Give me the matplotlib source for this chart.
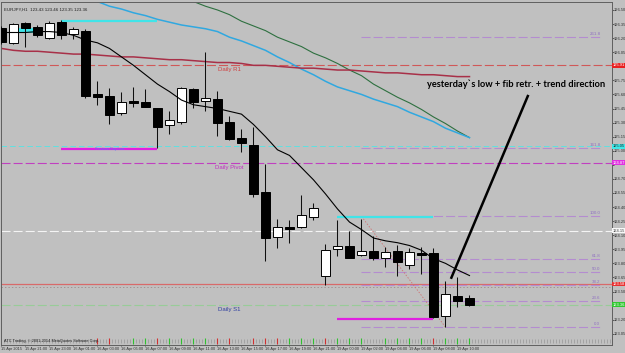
import numpy as np
import matplotlib
matplotlib.use("Agg")
import matplotlib.pyplot as plt

plt.rcParams['font.family'] = ['Liberation Sans', 'DejaVu Sans']
plt.rcParams['lines.scale_dashes'] = False

# EURJPY H1 свечи
opens = [126.31, 126.15, 126.36, 126.32, 126.20, 126.37, 126.24, 126.28, 125.60, 125.58,
         125.40, 125.53, 125.52, 125.46, 125.27, 125.31, 125.66, 125.53, 125.55, 125.31,
         125.14, 125.06, 124.56, 124.08, 124.19, 124.19, 124.29, 123.67, 123.95, 123.99,
         123.89, 123.93, 123.86, 123.93, 123.78, 123.91, 123.91, 123.24, 123.45, 123.43]
highs = [126.33, 126.36, 126.37, 126.34, 126.38, 126.39, 126.32, 126.30, 125.74, 125.67,
         125.63, 125.68, 125.66, 125.46, 125.42, 125.68, 125.67, 126.05, 125.64, 125.37,
         125.23, 125.25, 124.86, 124.27, 124.26, 124.53, 124.44, 124.01, 124.26, 124.14,
         124.27, 124.09, 123.97, 124.00, 123.96, 123.97, 123.96, 123.61, 123.65, 123.46]
lows = [126.14, 126.14, 126.11, 126.21, 126.19, 126.19, 126.19, 125.56, 125.49, 125.28,
        125.38, 125.47, 125.47, 125.03, 125.18, 125.29, 125.46, 125.42, 125.16, 125.11,
        124.99, 124.51, 123.82, 123.96, 124.02, 124.18, 124.26, 123.57, 123.88, 123.86,
        123.88, 123.84, 123.76, 123.66, 123.74, 123.69, 123.22, 123.12, 123.34, 123.35]
closes = [126.16, 126.35, 126.31, 126.23, 126.36, 126.23, 126.30, 125.58, 125.57, 125.38,
          125.52, 125.51, 125.47, 125.25, 125.33, 125.67, 125.52, 125.56, 125.30, 125.13,
          125.08, 124.54, 124.07, 124.19, 124.17, 124.31, 124.39, 123.94, 123.98, 123.86,
          123.93, 123.86, 123.92, 123.81, 123.92, 123.89, 123.23, 123.47, 123.40, 123.36]

# скользящие средние
ma_black = [126.26, 126.26, 126.26, 126.27, 126.27, 126.26, 126.23, 126.18, 126.15, 126.09,
            126.00, 125.91, 125.81, 125.71, 125.63, 125.54, 125.49, 125.47, 125.45, 125.42,
            125.39, 125.28, 125.15, 125.01, 124.95, 124.82, 124.69, 124.54, 124.38, 124.24,
            124.16, 124.07, 124.04, 124.02, 123.99, 123.94, 123.85, 123.80, 123.73, 123.67]
ma_cyan = [126.87, 126.84, 126.80, 126.76, 126.72, 126.68, 126.65, 126.62, 126.59, 126.54,
           126.51, 126.47, 126.44, 126.40, 126.37, 126.34, 126.32, 126.30, 126.27, 126.21,
           126.17, 126.12, 126.07, 126.00, 125.94, 125.87, 125.81, 125.74, 125.68, 125.64,
           125.60, 125.55, 125.51, 125.47, 125.41, 125.36, 125.31, 125.24, 125.19, 125.14]
ma_green = [127.22, 127.18, 127.14, 127.10, 127.05, 127.01, 126.97, 126.93, 126.88, 126.84,
            126.80, 126.76, 126.71, 126.68, 126.64, 126.63, 126.59, 126.54, 126.50, 126.45,
            126.38, 126.33, 126.28, 126.21, 126.16, 126.11, 126.04, 125.99, 125.93, 125.86,
            125.80, 125.71, 125.64, 125.57, 125.51, 125.44, 125.36, 125.29, 125.21, 125.14]
ma_red = [126.09, 126.07, 126.06, 126.06, 126.05, 126.04, 126.03, 126.03, 126.02, 126.01,
          126.00, 126.00, 125.99, 125.98, 125.97, 125.97, 125.96, 125.95, 125.94, 125.94,
          125.93, 125.91, 125.91, 125.90, 125.89, 125.88, 125.88, 125.87, 125.86, 125.86,
          125.85, 125.84, 125.83, 125.83, 125.82, 125.81, 125.81, 125.80, 125.79, 125.79]

# уровни
daily_r1 = 125.91
daily_pivot = 124.87
daily_s1 = 123.36
cyan_level = 125.05
white_level = 124.15
red_level = 123.58
prev_high_left, prev_low_left = 126.38, 125.02
prev_high_right, prev_low_right = 124.29, 123.21
fib_high, fib_low = 124.30, 123.12
fib_levels = [0.0, 23.6, 38.2, 50.0, 61.8, 100.0, 161.8, 261.8]

price_ticks = [126.50, 126.35, 126.20, 126.05, 125.90, 125.75, 125.60, 125.45, 125.30,
               125.15, 125.00, 124.85, 124.70, 124.55, 124.40, 124.25, 124.10, 123.95,
               123.80, 123.65, 123.50, 123.35, 123.20, 123.05]
price_tick_labels = ["126.50", "126.35", "126.20", "126.05", "", "125.75", "125.60", "125.45",
                     "125.30", "125.15", "125.00", "", "124.70", "124.55", "124.40", "124.25",
                     "124.10", "123.95", "123.80", "123.65", "123.50", "", "123.20", "123.05"]
time_labels = ["15 Apr 2015", "15 Apr 21:00", "15 Apr 23:00", "16 Apr 01:00", "16 Apr 03:00",
               "16 Apr 05:00", "16 Apr 07:00", "16 Apr 09:00", "16 Apr 11:00", "16 Apr 13:00",
               "16 Apr 15:00", "16 Apr 17:00", "16 Apr 19:00", "16 Apr 21:00", "19 Apr 00:00",
               "19 Apr 02:00", "19 Apr 04:00", "19 Apr 06:00", "19 Apr 08:00", "19 Apr 10:00"]
strip_colors = ['', '', '', '', '', '', '', '', 'r', 'r', '', 'g', 'g', 'r', 'g', 'g', 'g', 'g',
                'r', 'r', '', 'r', 'r', 'r', 'g', 'g', 'g', 'r', 'g', 'g', 'g', '', 'g', 'g',
                'g', 'g', 'r', 'g', 'g', 'g']

bg = '#c0c0c0'
fig = plt.figure(figsize=(6.25, 3.53), dpi=100, facecolor=bg)
ax = fig.add_axes([1 / 625, 8 / 353, 611 / 625, 343 / 353], facecolor=bg)
ax.set_xlim(-0.04, 50.875)
ax.set_ylim(122.93, 126.585)

n = len(opens)
x = np.arange(n)

# горизонтальные уровни на всю ширину
ax.axhline(daily_r1, color='#d05858', lw=0.8, dashes=(6.5, 2.2), zorder=1)
ax.axhline(daily_pivot, color='#c040c0', lw=0.8, dashes=(6.5, 2.2), zorder=1)
ax.axhline(cyan_level, color='#60e0e0', lw=0.7, dashes=(4, 2.2), zorder=1)
ax.axhline(white_level, color='#f4f4f4', lw=0.8, dashes=(6.5, 2.2), zorder=1)
ax.axhline(red_level, color='#d86a6a', lw=0.9, zorder=1)
ax.axhline(red_level - 0.03, color='#a08888', lw=0.6, dashes=(1, 1.5), zorder=1)
ax.axhline(daily_s1, color='#98cc98', lw=0.8, dashes=(6.5, 2.2), zorder=1)

# фибо
fib_prices = [fib_low + lv / 100 * (fib_high - fib_low) for lv in fib_levels]
for lv, fp in zip(fib_levels, fib_prices):
    ax.hlines(fp, 30, 49.9, color='#b48cd0', lw=0.8, linestyles=(0, (6.5, 2.2)), zorder=1)
    ax.text(49.9, fp + 0.01, f"{lv:.1f}", color='#9070c0', fontsize=3.2, ha='right', va='bottom')
ax.plot([30, 37], [fib_high, fib_low], color='#d07070', lw=0.6, dashes=(1, 1.2), zorder=1)

ax.text(19, daily_r1 - 0.02, "Daily R1", color='#d04040', fontsize=4.3, ha='center', va='top')
ax.text(19, daily_pivot - 0.02, "Daily Pivot", color='#c030c0', fontsize=4.3, ha='center', va='top')
ax.text(19, daily_s1 - 0.02, "Daily S1", color='#3040a0', fontsize=4.3, ha='center', va='top')

# скользящие
ax.plot(x, ma_green, color='#2e7040', lw=0.8, zorder=2)
ax.plot(x, ma_cyan, color='#30a8e0', lw=1.1, zorder=2)
ax.plot(x, ma_red, color='#a83048', lw=1.1, zorder=2)

# уровни прошлого дня
ax.hlines([prev_high_left, prev_high_right], [5, 28], [13, 36], color='#40e4e8', lw=1.6, zorder=3)
ax.hlines([prev_low_left, prev_low_right], [5, 28], [13, 36], color='#e020e0', lw=1.6, zorder=3)
ax.hlines(126.29, 1.4, 2.6, color='#40e4e8', lw=3.5, zorder=2)
ax.text(9, prev_low_left, "Previous Day Low", color='#4a80ff', fontsize=2.6, ha='center', va='center', zorder=4)

# свечи
w = 0.7
for i in range(n):
    o, h, l, c = opens[i], highs[i], lows[i], closes[i]
    ax.vlines(i, l, h, color='#101010', lw=0.75, zorder=4)
    col = 'white' if c >= o else 'black'
    lo, hi = min(o, c), max(o, c)
    ax.add_patch(plt.Rectangle((i - w / 2, lo), w, max(hi - lo, 0.008), facecolor=col,
                               edgecolor='black', lw=0.7, zorder=5))

ax.plot(x, ma_black, color='black', lw=0.8, zorder=6)

# аннотация
ax.text(35.5, 125.71, "yesterday`s low + fib retr. + trend direction", fontsize=6.7,
        fontweight='bold', family=['Lato', 'DejaVu Sans'], ha='left', va='center', zorder=7)
ax.plot([43.9, 37.45], [125.595, 123.635], color='black', lw=1.8, solid_capstyle='butt', zorder=7)

# нижняя полоса
trans = ax.get_xaxis_transform()
ax.vlines(np.arange(0, 50.8, 0.25), 0.005, 0.017, color='#8c8c8c', lw=0.4, transform=trans)
for i, sc in enumerate(strip_colors):
    if sc:
        ax.vlines(i, 0.003, 0.02, color={'r': '#d03030', 'g': '#30c030'}[sc], lw=0.8, transform=trans)
ax.text(0.2, 0.011, "ATC Trading, \u00a9 2001-2014 MetaQuotes Software Corp.", fontsize=2.8,
        color='#202020', transform=trans, va='center', ha='left')
ax.text(0.005, 0.985, "EURJPY,H1  123.43 123.46 123.35 123.36", fontsize=3.2, color='#202020',
        transform=ax.transAxes, va='top', ha='left')

# оси
ax.yaxis.tick_right()
ax.set_yticks(price_ticks)
ax.set_yticklabels(price_tick_labels)
ax.tick_params(axis='y', labelsize=2.9, colors='#303030', length=1.2, width=0.5, pad=0.3)
ax.set_xticks(x[::2])
ax.set_xticklabels(time_labels, ha='left')
ax.tick_params(axis='x', labelsize=2.8, colors='#303030', length=1.0, width=0.5, pad=0.2)
for s in ax.spines.values():
    s.set_color('#606060')
    s.set_linewidth(0.7)

ytrans = ax.get_yaxis_transform()
boxes = [(daily_r1, '#e82020', 'white'), (cyan_level, '#40e8e8', '#202020'),
         (daily_pivot, '#e030e0', 'white'), (white_level, '#f8f8f8', '#404040'),
         (red_level, '#e83030', 'white'), (daily_s1, '#30c830', 'white')]
for lvl, fc, tc in boxes:
    ax.text(1.0015, lvl, f"{lvl:.2f}", transform=ytrans, fontsize=2.9, color=tc, ha='left',
            va='center', clip_on=False, zorder=8,
            bbox=dict(boxstyle='square,pad=0.12', facecolor=fc, edgecolor='none'))

fig.savefig("out.png", dpi=100, facecolor=bg)
